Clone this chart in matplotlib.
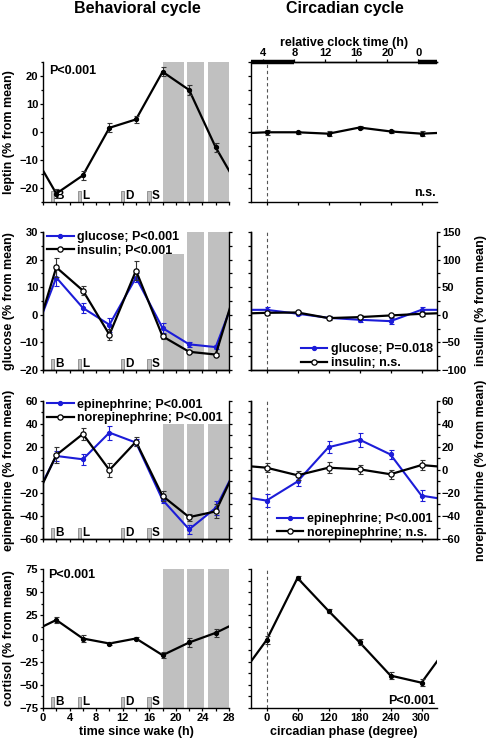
import matplotlib
matplotlib.use('Agg')
import matplotlib.pyplot as plt
from matplotlib.ticker import MultipleLocator, NullFormatter
from matplotlib.lines import Line2D

plt.rcParams['font.family'] = ['Liberation Sans', 'DejaVu Sans']
plt.rcParams['font.weight'] = 'bold'
plt.rcParams['axes.labelweight'] = 'bold'
plt.rcParams['font.size'] = 8
plt.rcParams['axes.linewidth'] = 1.0
plt.rcParams['xtick.major.size'] = 2.3
plt.rcParams['ytick.major.size'] = 2.3
plt.rcParams['xtick.minor.size'] = 2.3
plt.rcParams['ytick.minor.size'] = 1.8
plt.rcParams['xtick.major.pad'] = 1.2
plt.rcParams['ytick.major.pad'] = 1.2
plt.rcParams['xtick.labelsize'] = 8
plt.rcParams['ytick.labelsize'] = 8

# ---------------- data ----------------
hours = [2, 6, 10, 14, 18, 22, 26]
phases = [0, 60, 120, 180, 240, 300]

leptin_beh = [-22, -15.5, 1.5, 4.5, 21.5, 15, -5.5]
leptin_beh_err = [1.5, 1.5, 1.6, 1.2, 1.6, 1.8, 1.6]
leptin_circ = [-0.1, -0.1, -0.6, 1.6, 0.2, -0.6]
leptin_circ_err = [0.8, 0.6, 0.9, 0.4, 0.4, 1.0]

glucose_beh = [13.5, 2.5, -3.6, 13.5, -4.8, -10.7, -11.7]
glucose_beh_err = [3.0, 1.8, 2.5, 1.5, 1.8, 0.8, 0.8]
insulin_beh = [86, 44, -36, 80, -39, -67, -72]
insulin_beh_err = [17, 8, 10, 17, 4, 3, 3]
glucose_circ = [1.8, 0.4, -1.1, -1.8, -2.3, 1.8]
glucose_circ_err = [1.0, 0.6, 0.6, 0.8, 1.0, 1.2]
insulin_circ = [3.6, 4.2, -6, -4.2, -1.2, 1.8]
insulin_circ_err = [4, 3, 3, 3, 3, 4]

epi_beh = [12.2, 9.3, 32.5, 23.8, -26, -51.6, -33]
epi_beh_err = [4, 5, 6, 3, 3, 4, 6]
norepi_beh = [13, 31.3, 0, 24.6, -22.6, -41, -36]
norepi_beh_err = [7, 5, 6, 4, 4, 3, 6]
epi_circ = [-26.6, -10, 19.8, 26.4, 13.5, -22.3]
epi_circ_err = [6, 4, 5, 6, 4, 5]
norepi_circ = [2, -4.6, 2, 0.6, -3.7, 4.3]
norepi_circ_err = [4, 4, 5, 4, 4, 4]

cortisol_beh = [20, 0, -5.4, 0, -18, -4.3, 6.1]
cortisol_beh_err = [3, 4, 2, 1.5, 3, 5, 4]
cortisol_circ = [-1.8, 65.3, 29.8, -4, -40, -47.7]
cortisol_circ_err = [4, 2.5, 2.5, 3, 4, 4]

sleep_start = [18, 21.7, 24.8]
sleep_end = [21.2, 24.3, 28]
band_top_leptin = [25, 25, 25]
band_top_glucose = [22, 30, 30]
band_top_epi = [40, 40, 40]
band_top_cortisol = [75, 75, 75]

meal_labels = ['B', 'L', 'D', 'S']
meal_start = [1.2, 5.2, 11.7, 15.7]
meal_end = [1.65, 5.7, 12.2, 16.2]

clock_phase = [-6, 54, 114, 174, 234, 294]
clock_labels = ['4', '8', '12', '16', '20', '0']
dark_start = [-30, 294]
dark_end = [54, 330]

BLUE = '#1c1cd8'
GRAY = '#c0c0c0'
BEH_PERIOD = 28
CIRC_PERIOD = 360
FS = 9

# ---------------- layout ----------------
W, H = 490, 742
fig = plt.figure(figsize=(W / 100, H / 100), dpi=100)

def add_ax(x0, x1, top, bottom):
    return fig.add_axes([x0 / W, 1 - bottom / H, (x1 - x0) / W, (bottom - top) / H])

rows = [(62, 202), (232, 370), (401, 539), (569, 708)]
LX0, LX1 = 43, 229
RX0, RX1 = 251, 437
LEFT_LABEL_X = -0.148
RIGHT_LABEL_X = 1.205


def wrap(x, y, period):
    xs = [x[-1] - period] + list(x) + [x[0] + period]
    ys = [y[-1]] + list(y) + [y[0]]
    return xs, ys


def series(ax, x, y, err, period, color='k', open_marker=False, lw=1.6, label=None):
    xs, ys = wrap(x, y, period)
    ax.plot(xs, ys, color=color, lw=lw, zorder=3)
    ax.errorbar(x, y, yerr=err, fmt='none', ecolor=color if color != 'k' else '#333333',
                elinewidth=0.8, capsize=1.8, capthick=0.8, zorder=4)
    if open_marker:
        ax.plot(x, y, 'o', ms=3.8, mfc='white', mec='k', mew=0.9, ls='none', zorder=5)
        return Line2D([], [], color='k', lw=lw, marker='o', ms=3.8, mfc='white', mec='k', mew=0.9, label=label)
    else:
        ax.plot(x, y, 'o', ms=2.8, color=color, ls='none', zorder=5)
        return Line2D([], [], color=color, lw=lw, marker='o', ms=2.8, label=label)


def style_left(ax, ylim, major, minor, ylabel, band_tops, show_x=False):
    ax.set_xlim(0, 28)
    ax.set_ylim(*ylim)
    ax.xaxis.set_major_locator(MultipleLocator(4))
    ax.xaxis.set_minor_locator(MultipleLocator(2))
    ax.yaxis.set_major_locator(MultipleLocator(major))
    ax.yaxis.set_minor_locator(MultipleLocator(minor))
    ax.tick_params(which='both', direction='out', width=0.9)
    ax.spines['top'].set_visible(False)
    ax.spines['right'].set_visible(False)
    if not show_x:
        ax.xaxis.set_major_formatter(NullFormatter())
    ax.set_ylabel(ylabel, fontsize=FS)
    ax.yaxis.set_label_coords(LEFT_LABEL_X, 0.5)
    span = ylim[1] - ylim[0]
    for s, e, t in zip(sleep_start, sleep_end, band_tops):
        ax.axvspan(s, e, ymin=0, ymax=(t - ylim[0]) / span, color=GRAY, lw=0, zorder=0)
    for lab, s, e in zip(meal_labels, meal_start, meal_end):
        ax.axvspan(s, e, ymin=0, ymax=0.08, facecolor=GRAY, edgecolor='#888888', lw=0.6, zorder=1)
        ax.text(e + 0.2, 0.0, lab, transform=ax.get_xaxis_transform(), fontsize=8.5,
                ha='left', va='bottom', zorder=2)


def style_right(ax, ylim, major, minor, show_x=False):
    ax.set_xlim(-30, 330)
    ax.set_ylim(*ylim)
    ax.xaxis.set_major_locator(MultipleLocator(60))
    ax.yaxis.set_major_locator(MultipleLocator(major))
    ax.yaxis.set_minor_locator(MultipleLocator(minor))
    ax.yaxis.set_major_formatter(NullFormatter())
    ax.tick_params(which='both', direction='out', width=0.9)
    ax.tick_params(axis='y', which='minor', length=2.3)
    ax.spines['top'].set_visible(False)
    ax.spines['right'].set_visible(False)
    if not show_x:
        ax.xaxis.set_major_formatter(NullFormatter())
    ax.axvline(0, color='#555555', lw=0.8, ls=(0, (3, 2.5)), zorder=1)


def twin_right(ax, ylim, major, minor, labels=True, ylabel=None):
    ax2 = ax.twinx()
    ax2.set_ylim(*ylim)
    ax2.yaxis.set_major_locator(MultipleLocator(major))
    ax2.yaxis.set_minor_locator(MultipleLocator(minor))
    ax2.tick_params(which='both', direction='out', width=0.9)
    ax2.tick_params(axis='y', which='minor', length=2.3)
    ax2.spines['top'].set_visible(False)
    if not labels:
        ax2.yaxis.set_major_formatter(NullFormatter())
    if ylabel:
        ax2.set_ylabel(ylabel, fontsize=FS)
        ax2.yaxis.set_label_coords(RIGHT_LABEL_X, 0.5)
    return ax2


LEG = dict(frameon=False, fontsize=FS, handlelength=2.1, handletextpad=0.3,
           labelspacing=0.12, borderaxespad=0.0, borderpad=0.2)

# ---------- row 1: leptin ----------
ax = add_ax(LX0, LX1, *rows[0])
style_left(ax, (-25, 25), 10, 5, 'leptin (% from mean)', band_top_leptin)
series(ax, hours, leptin_beh, leptin_beh_err, BEH_PERIOD)
ax.text(0.032, 0.938, 'P<0.001', transform=ax.transAxes, fontsize=FS, ha='left', va='center')

ax = add_ax(RX0, RX1, *rows[0])
style_right(ax, (-25, 25), 10, 5)
series(ax, phases, leptin_circ, leptin_circ_err, CIRC_PERIOD)
ax.text(0.995, 0.064, 'n.s.', transform=ax.transAxes, fontsize=FS, ha='right', va='center')
ax.spines['top'].set_visible(True)
top = ax.twiny()
top.set_xlim(ax.get_xlim())
top.set_xticks(clock_phase)
top.set_xticklabels(clock_labels)
top.tick_params(direction='out', width=0.9, length=2.3, pad=0.8)
for sp in ['left', 'right', 'bottom']:
    top.spines[sp].set_visible(False)
top.set_xlabel('relative clock time (h)', fontsize=FS, labelpad=1.5)
for s, e in zip(dark_start, dark_end):
    ax.plot([s, e], [1, 1], transform=ax.get_xaxis_transform(), color='k', lw=3.2,
            solid_capstyle='butt', clip_on=False, zorder=6)

# ---------- row 2: glucose / insulin ----------
ax = add_ax(LX0, LX1, *rows[1])
style_left(ax, (-20, 30), 10, 5, 'glucose (% from mean)', band_top_glucose)
ax2 = twin_right(ax, (-100, 150), 50, 25, labels=False)
h1 = series(ax, hours, glucose_beh, glucose_beh_err, BEH_PERIOD, color=BLUE, lw=1.5,
            label='glucose; P<0.001')
h2 = series(ax2, hours, insulin_beh, insulin_beh_err, BEH_PERIOD, open_marker=True,
            label='insulin; P<0.001')
ax2.legend(handles=[h1, h2], loc='upper left', bbox_to_anchor=(0.01, 1.025), **LEG)

ax = add_ax(RX0, RX1, *rows[1])
style_right(ax, (-20, 30), 10, 5)
ax2 = twin_right(ax, (-100, 150), 50, 25, ylabel='insulin (% from mean)')
h1 = series(ax, phases, glucose_circ, glucose_circ_err, CIRC_PERIOD, color=BLUE, lw=1.5,
            label='glucose; P=0.018')
h2 = series(ax2, phases, insulin_circ, insulin_circ_err, CIRC_PERIOD, open_marker=True,
            label='insulin; n.s.')
ax2.legend(handles=[h1, h2], loc='lower right', bbox_to_anchor=(0.99, -0.01), **LEG)

# ---------- row 3: epinephrine / norepinephrine ----------
ax = add_ax(LX0, LX1, *rows[2])
style_left(ax, (-60, 60), 20, 10, 'epinephrine (% from mean)', band_top_epi)
ax2 = twin_right(ax, (-60, 60), 20, 10, labels=False)
h1 = series(ax, hours, epi_beh, epi_beh_err, BEH_PERIOD, color=BLUE, lw=1.5,
            label='epinephrine; P<0.001')
h2 = series(ax2, hours, norepi_beh, norepi_beh_err, BEH_PERIOD, open_marker=True,
            label='norepinephrine; P<0.001')
ax2.legend(handles=[h1, h2], loc='upper left', bbox_to_anchor=(0.01, 1.035), **LEG)

ax = add_ax(RX0, RX1, *rows[2])
style_right(ax, (-60, 60), 20, 10)
ax2 = twin_right(ax, (-60, 60), 20, 10, ylabel='norepinephrine (% from mean)')
h1 = series(ax, phases, epi_circ, epi_circ_err, CIRC_PERIOD, color=BLUE, lw=1.5,
            label='epinephrine; P<0.001')
h2 = series(ax2, phases, norepi_circ, norepi_circ_err, CIRC_PERIOD, open_marker=True,
            label='norepinephrine; n.s.')
ax2.legend(handles=[h1, h2], loc='lower right', bbox_to_anchor=(0.99, -0.015), **LEG)

# ---------- row 4: cortisol ----------
ax = add_ax(LX0, LX1, *rows[3])
style_left(ax, (-75, 75), 25, 12.5, 'cortisol (% from mean)', band_top_cortisol, show_x=True)
series(ax, hours, cortisol_beh, cortisol_beh_err, BEH_PERIOD)
ax.text(0.025, 0.955, 'P<0.001', transform=ax.transAxes, fontsize=FS, ha='left', va='center')
ax.set_xlabel('time since wake (h)', fontsize=FS, labelpad=2)

ax = add_ax(RX0, RX1, *rows[3])
style_right(ax, (-75, 75), 25, 12.5, show_x=True)
series(ax, phases, cortisol_circ, cortisol_circ_err, CIRC_PERIOD)
ax.text(0.99, 0.05, 'P<0.001', transform=ax.transAxes, fontsize=FS, ha='right', va='center')
ax.set_xlabel('circadian phase (degree)', fontsize=FS, labelpad=2)

# ---------- titles ----------
fig.text(137 / W, 1 - 8 / H, 'Behavioral cycle', fontsize=11.5, ha='center', va='center')
fig.text(345 / W, 1 - 8 / H, 'Circadian cycle', fontsize=11.5, ha='center', va='center')

fig.savefig('out.png', dpi=100)
